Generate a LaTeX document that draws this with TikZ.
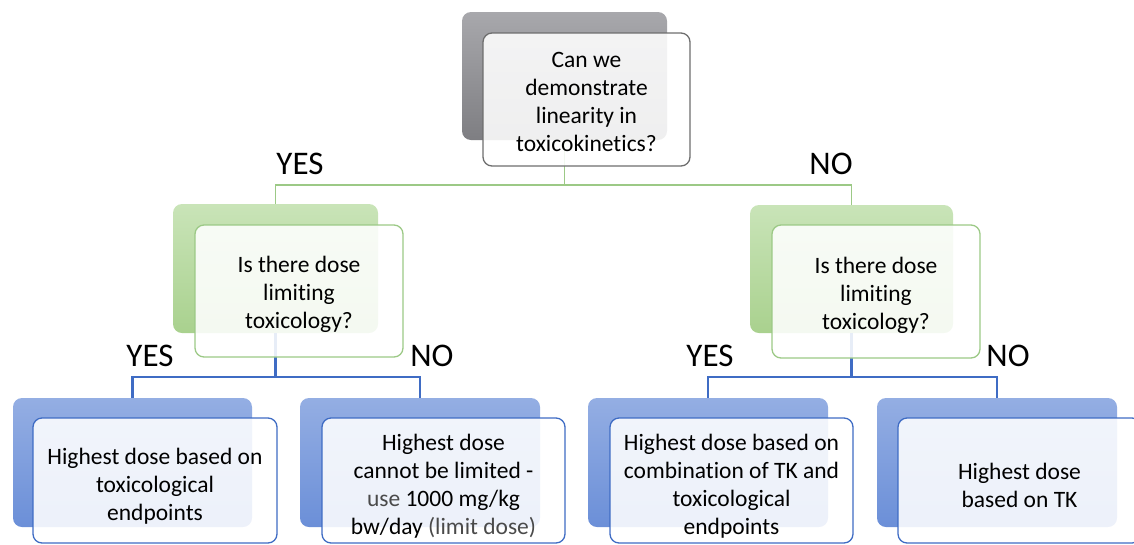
\documentclass[tikz,border=0pt]{standalone}
\usepackage{fontspec}
\setmainfont{Carlito}[Ligatures=NoCommon]
\begin{document}
\begin{tikzpicture}[x=1pt,y=-1pt,
  backbox/.style={rounded corners=9pt, draw=none, inner sep=0pt},
  grayback/.style={backbox, top color=grayA, bottom color=grayB},
  greenback/.style={backbox, top color=greenA, bottom color=greenB},
  blueback/.style={backbox, top color=blueA, bottom color=blueB},
  frontbox/.style={rounded corners=9pt, fill=white, fill opacity=0.88, text opacity=1,
     line width=1.3pt, align=center, inner sep=2pt,
     font=\fontsize{23.5}{28}\selectfont},
  grayfront/.style={frontbox, draw=grayC},
  greenfront/.style={frontbox, draw=greenC},
  bluefront/.style={frontbox, draw=blueC},
  greenline/.style={draw=greenC, line width=1.3pt},
  blueline/.style={draw=blueC, line width=2.2pt},
  lbl/.style={font=\fontsize{33}{35}\selectfont, inner sep=0pt}
]
\definecolor{grayA}{HTML}{A8A8AC}
\definecolor{grayB}{HTML}{7E7E82}
\definecolor{grayC}{HTML}{6E6E6E}
\definecolor{greenA}{HTML}{C9E4B8}
\definecolor{greenB}{HTML}{A9D18E}
\definecolor{greenC}{HTML}{9CC986}
\definecolor{blueA}{HTML}{94AEE3}
\definecolor{blueB}{HTML}{6B8FD8}
\definecolor{blueC}{HTML}{3F6CC4}
\definecolor{lighttext}{HTML}{4A4A4A}
\useasboundingbox (0,0) rectangle (1134,544);

% back boxes
\node[grayback, minimum width=205pt, minimum height=128pt] (tb) at (564.5,76) {};
\node[greenback, minimum width=205pt, minimum height=129pt] (glb) at (275.5,268.5) {};
\node[greenback, minimum width=203pt, minimum height=128pt] (grb) at (851.5,269) {};
\node[blueback, minimum width=239pt, minimum height=129pt] (b1b) at (132.5,462.5) {};
\node[blueback, minimum width=240pt, minimum height=129pt] (b2b) at (420,462.5) {};
\node[blueback, minimum width=240pt, minimum height=129pt] (b3b) at (708,462.5) {};
\node[blueback, minimum width=240pt, minimum height=129pt] (b4b) at (997,462.5) {};

% connectors
\coordinate (j0) at (564.5,185);
\coordinate (j1) at (275.5,377);
\coordinate (j2) at (851.5,377);
\draw[greenline] (tb.south) -- (j0);
\draw[greenline] (glb.north) |- (j0) -| (grb.north);
\draw[blueline] (glb.south) -- (j1);
\draw[blueline] (b1b.north) |- (j1) -| (b2b.north);
\draw[blueline] (grb.south) -- (j2);
\draw[blueline] (b3b.north) |- (j2) -| (b4b.north);

% front boxes
\node[grayfront, minimum width=207pt, minimum height=133pt] (tf) at (586.5,99.5)
  {\rule{0pt}{20pt}Can we\\demonstrate\\linearity in\\toxicokinetics?};
\node[greenfront, minimum width=208pt, minimum height=132pt] (glf) at (299,291)
  {\rule{0pt}{24pt}Is there dose\\limiting\\toxicology?};
\node[greenfront, minimum width=208pt, minimum height=133pt] (grf) at (876,291.5)
  {\rule{0pt}{24pt}Is there dose\\limiting\\toxicology?};
\node[bluefront, minimum width=244pt, minimum height=125pt] (b1f) at (155,480.5)
  {\rule{0pt}{27pt}Highest dose based on\\toxicological\\endpoints};
\node[bluefront, minimum width=243pt, minimum height=125pt] (b2f) at (443.5,480.5)
  {\rule{0pt}{27pt}Highest dose\\cannot be limited -\\\textcolor{lighttext}{use} 1000 mg/kg\\bw/day \textcolor{lighttext}{(limit dose)}};
\node[bluefront, minimum width=243pt, minimum height=125pt] (b3f) at (731.5,480.5)
  {\rule{0pt}{27pt}Highest dose based on\\combination of TK and\\toxicological\\endpoints};
\node[bluefront, minimum width=243pt, minimum height=125pt] (b4f) at (1019.5,480.5)
  {\rule{0pt}{27pt}Highest dose\\based on TK};

% labels
\node[lbl] (y0) at (300,164) {YES};
\node[lbl] (n0) at (831,164) {NO};
\node[lbl] (y1) at (150,356) {YES};
\node[lbl] (n1) at (432,356) {NO};
\node[lbl] (y2) at (710,356) {YES};
\node[lbl] (n2) at (1008,356) {NO};
\end{tikzpicture}
\end{document}
